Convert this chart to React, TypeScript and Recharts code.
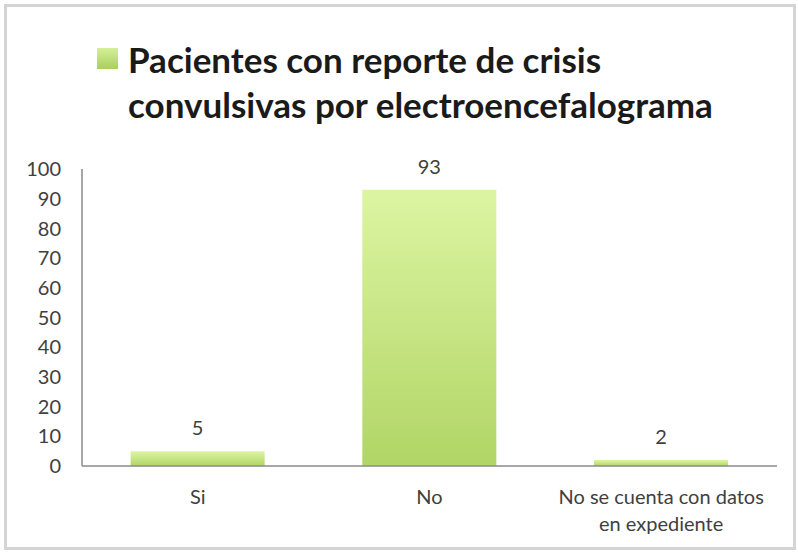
import { BarChart, Bar, XAxis, YAxis, LabelList } from 'recharts'

const categories = ['Si', 'No', 'No se cuenta con datos en expediente']
const pacientes = [5, 93, 2]
const yTicks = [0, 10, 20, 30, 40, 50, 60, 70, 80, 90, 100]
const titleLines = ['Pacientes con reporte de crisis', 'convulsivas por electroencefalograma']

const data = categories.map((c, i) => ({ name: c, value: pacientes[i] }))

const FONT = 'Lato, "Open Sans", sans-serif'

// wrap long category names the way the office chart does
function wrap(text: string, max = 22) {
  const lines: string[] = []
  let cur = ''
  text.split(' ').forEach(w => {
    const next = cur ? cur + ' ' + w : w
    if (next.length > max && cur) {
      lines.push(cur)
      cur = w
    } else cur = next
  })
  if (cur) lines.push(cur)
  return lines
}

const CategoryTick = ({ x, y, payload }: { x?: number; y?: number; payload?: { value: string } }) => {
  const lines = wrap(payload?.value ?? '')
  return (
    <text x={x} y={y} textAnchor="middle" fill="#404040" fontSize={20} fontFamily={FONT}>
      {lines.map((l, i) => (
        <tspan key={i} x={x} dy={i === 0 ? 30 : 27}>{l}</tspan>
      ))}
    </text>
  )
}

export default function App() {
  return (
    <div style={{ position: 'absolute', left: 0, top: 0, width: 798, height: 555, background: '#fff' }}>
      <div
        style={{
          position: 'absolute', left: 4, top: 4, width: 786, height: 540,
          border: '3px solid #d4d4d4',
        }}
      />
      {/* legend / title */}
      <div style={{ position: 'absolute', left: 97, top: 48, width: 21, height: 21,
        background: 'linear-gradient(#d5ef9a, #a9cf5c)' }} />
      <div style={{ position: 'absolute', left: 128, top: 37, fontFamily: FONT, fontWeight: 700,
        fontSize: 35, lineHeight: '45px', color: '#1a1a1a', whiteSpace: 'nowrap' }}>
        {titleLines.map(l => <div key={l}>{l}</div>)}
      </div>
      <BarChart
        width={798}
        height={555}
        data={data}
        margin={{ top: 169, right: 21, bottom: 29, left: 0 }}
        barCategoryGap="21%"
        style={{ position: 'absolute', left: 0, top: 0 }}
      >
        <defs>
          <linearGradient id="barFill" x1="0" y1="0" x2="0" y2="1">
            <stop offset="0%" stopColor="#dcf5a2" />
            <stop offset="100%" stopColor="#b1d566" />
          </linearGradient>
        </defs>
        <XAxis
          dataKey="name"
          height={60}
          tickLine={false}
          axisLine={{ stroke: '#8a8a8a', strokeWidth: 1.5 }}
          tick={<CategoryTick />}
          interval={0}
        />
        <YAxis
          width={82}
          domain={[0, 100]}
          ticks={yTicks}
          tickLine={false}
          tickSize={0}
          tickMargin={21}
          axisLine={{ stroke: '#8a8a8a', strokeWidth: 1.5 }}
          tick={{ fontSize: 20, fill: '#404040', fontFamily: FONT }}
        />
        <Bar dataKey="value" fill="url(#barFill)" isAnimationActive={false}>
          <LabelList dataKey="value" position="top" offset={16} fill="#404040" fontSize={20} fontFamily={FONT} />
        </Bar>
      </BarChart>
    </div>
  )
}
